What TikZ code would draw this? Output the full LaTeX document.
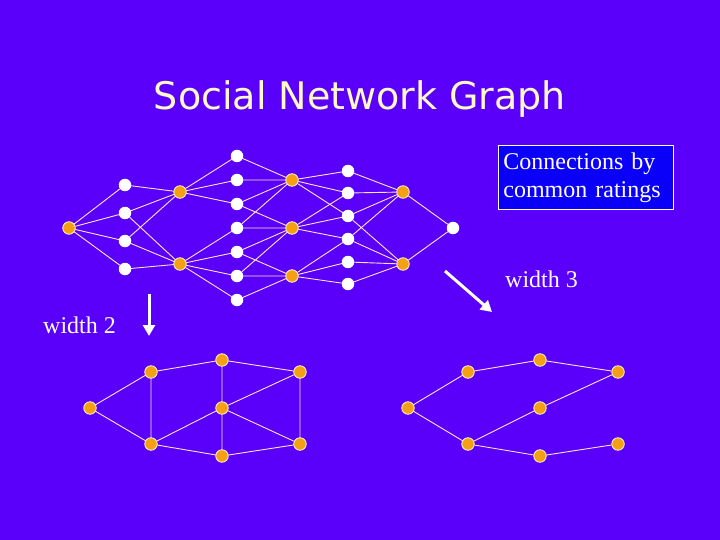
\documentclass[tikz,border=0pt]{standalone}
\usepackage{fontspec}
\setmainfont{Liberation Serif}
\newfontfamily\titlefont{DejaVu Sans}
\usetikzlibrary{arrows.meta}

\definecolor{slidebg}{RGB}{90,0,250}
\definecolor{titlecream}{RGB}{255,248,200}
\definecolor{nodeorange}{RGB}{245,160,20}
\definecolor{edgepink}{RGB}{255,228,215}
\definecolor{boxblue}{RGB}{10,0,250}

\begin{document}
\begin{tikzpicture}[x=1pt, y=-1pt, line cap=round, line join=round]

% --- Global TikZ Styles ---
\tikzset{
    person/.style={
        circle,
        fill=white,
        inner sep=0pt,
        minimum size=12.5pt
    },
    rater/.style={
        circle,
        fill=nodeorange,
        draw=titlecream,
        line width=0.8pt,
        inner sep=0pt,
        minimum size=12.5pt
    },
    link/.style={
        draw=edgepink,
        line width=0.9pt
    },
    widtharrow/.style={
        draw=white,
        line width=3pt,
        line cap=butt,
        -{Triangle[width=12pt,length=11pt]}
    },
    slidetext/.style={
        text=white,
        font=\fontsize{24}{28}\selectfont
    }
}

% --- Achtergrond en kader ---
\fill[slidebg] (0,0) rectangle (720,540);
\useasboundingbox (0,0) rectangle (720,540);

% --- Titel ---
\node[text=titlecream, anchor=base, inner sep=0pt,
      font=\titlefont\fontsize{38}{44}\selectfont] (title) at (360,110)
    {Social Network Graph};

% --- Uitlegkader ---
\node[draw=white, fill=boxblue, line width=0.8pt, slidetext, align=left,
      text width=165pt, inner xsep=5pt, inner ysep=7pt, anchor=north west] (ratingbox) at (498,145)
    {Connections by\\common ratings};

% =========================================================================
% --- Bovenste graaf: kolommen van personen en beoordelaars ---
% =========================================================================

% --- Knopen ---
\node[rater] (a) at (69,228) {};

\node[person] (b1) at (125,185) {};
\node[person] (b2) at (125,213) {};
\node[person] (b3) at (125,241) {};
\node[person] (b4) at (125,269) {};

\node[rater] (c1) at (180,192) {};
\node[rater] (c2) at (180,264) {};

\node[person] (d1) at (237,156) {};
\node[person] (d2) at (237,180) {};
\node[person] (d3) at (237,204) {};
\node[person] (d4) at (237,228) {};
\node[person] (d5) at (237,252) {};
\node[person] (d6) at (237,276) {};
\node[person] (d7) at (237,300) {};

\node[rater] (e1) at (292,180) {};
\node[rater] (e2) at (292,228) {};
\node[rater] (e3) at (292,276) {};

\node[person] (f1) at (348,171) {};
\node[person] (f2) at (348,193) {};
\node[person] (f3) at (348,216) {};
\node[person] (f4) at (348,239) {};
\node[person] (f5) at (348,262) {};
\node[person] (f6) at (348,284) {};

\node[rater] (g1) at (403,192) {};
\node[rater] (g2) at (403,264) {};

\node[person] (h) at (453,228) {};

% --- Verbindingen ---
\draw[link] (a) -- (b1) (a) -- (b2) (a) -- (b3) (a) -- (b4);
\draw[link] (b1) -- (c1) (b2) -- (c1) (b2) -- (c2)
            (b3) -- (c1) (b3) -- (c2) (b4) -- (c2);
\draw[link] (c1) -- (d1) (c1) -- (d2) (c1) -- (d3)
            (c2) -- (d4) (c2) -- (d5) (c2) -- (d6) (c2) -- (d7);
\draw[link] (d1) -- (e1) (d2) -- (e1) (d3) -- (e1) (d3) -- (e2)
            (d4) -- (e1) (d4) -- (e2) (d5) -- (e2) (d5) -- (e3)
            (d6) -- (e2) (d6) -- (e3) (d7) -- (e3);
\draw[link] (e1) -- (f1) (e1) -- (f2) (e1) -- (f3)
            (e2) -- (f2) (e2) -- (f3) (e2) -- (f4)
            (e3) -- (f4) (e3) -- (f5) (e3) -- (f6);
\draw[link] (f1) -- (g1) (f2) -- (g1) (f3) -- (g1) (f3) -- (g2)
            (f4) -- (g1) (f4) -- (g2) (f5) -- (g2) (f6) -- (g2);
\draw[link] (g1) -- (h) (g2) -- (h);

% --- Pijlen en breedtes ---
\coordinate (downstart) at (149,294);
\coordinate (downend) at (149,336);
\draw[widtharrow] (downstart) -- (downend);
\node[slidetext, anchor=base west, inner sep=0pt] (widthtwo) at (43,333) {width 2};

\coordinate (diagstart) at (445,271);
\coordinate (diagend) at (492,312);
\draw[widtharrow] (diagstart) -- (diagend);
\node[slidetext, anchor=base west, inner sep=0pt] (widththree) at (505,287) {width 3};

% =========================================================================
% --- Links onder: graaf met breedte 2 ---
% =========================================================================
\node[rater] (p0) at (90,408) {};
\node[rater] (p1) at (151,372) {};
\node[rater] (p2) at (151,444) {};
\node[rater] (p3) at (222,360) {};
\node[rater] (p4) at (222,408) {};
\node[rater] (p5) at (222,456) {};
\node[rater] (p6) at (300,372) {};
\node[rater] (p7) at (300,444) {};

\draw[link] (p0) -- (p1) (p0) -- (p2) (p1) -- (p2) (p1) -- (p3)
            (p3) -- (p4) (p4) -- (p5) (p3) -- (p6) (p4) -- (p6)
            (p6) -- (p7) (p2) -- (p4) (p4) -- (p7) (p2) -- (p5)
            (p5) -- (p7);

% =========================================================================
% --- Rechts onder: graaf met breedte 3 ---
% =========================================================================
\node[rater] (q0) at (408,408) {};
\node[rater] (q1) at (468,372) {};
\node[rater] (q2) at (468,444) {};
\node[rater] (q3) at (540,360) {};
\node[rater] (q4) at (540,408) {};
\node[rater] (q5) at (540,456) {};
\node[rater] (q6) at (618,372) {};
\node[rater] (q7) at (618,444) {};

\draw[link] (q0) -- (q1) (q0) -- (q2) (q1) -- (q3) (q3) -- (q6)
            (q2) -- (q4) (q4) -- (q6) (q2) -- (q5) (q5) -- (q7);

\end{tikzpicture}
\end{document}
